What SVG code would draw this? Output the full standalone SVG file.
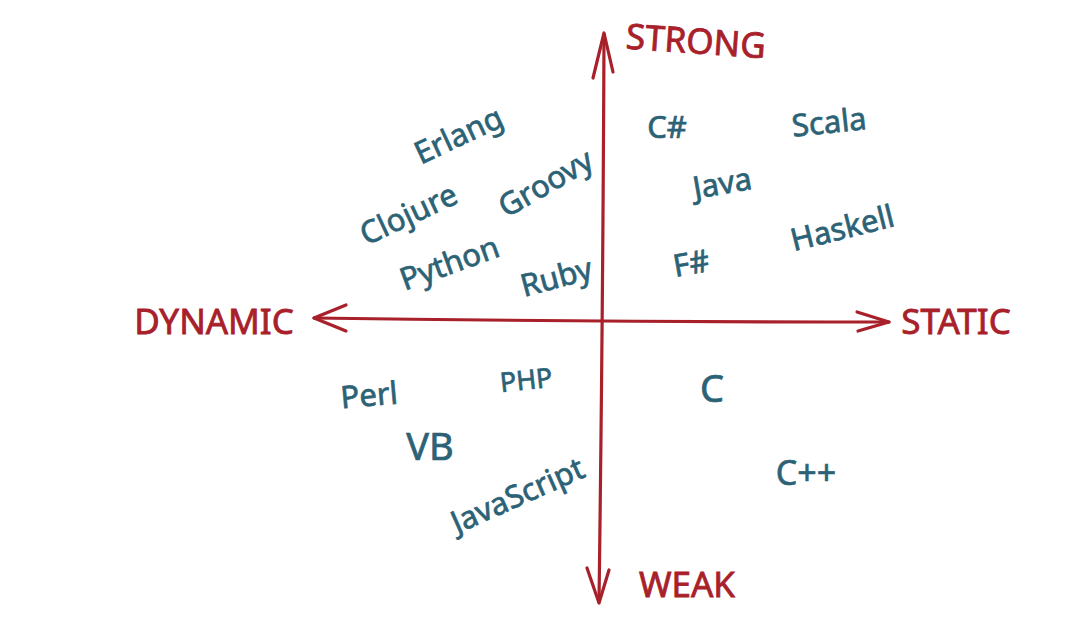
<svg xmlns="http://www.w3.org/2000/svg" width="1089" height="621" viewBox="0 0 1089 621">
<style>
.ax{fill:none;stroke:#A8202A;stroke-width:3.2;stroke-linecap:round;stroke-linejoin:round}
.lab{font-family:"Noto Sans","DejaVu Sans",sans-serif;fill:#A8202A;stroke:#A8202A;stroke-width:0.8;font-size:35px;text-anchor:middle;dominant-baseline:central}
.lang{font-family:"Noto Sans","DejaVu Sans",sans-serif;fill:#2C6276;stroke:#2C6276;stroke-width:0.7;font-size:31px;text-anchor:middle;dominant-baseline:central}
</style>
<rect width="1089" height="621" fill="#ffffff"/>
<g id="connectors">
<path class="ax" d="M604 34 Q603 300 599 602"/>
<path class="ax" d="M593 78 L604 33 L613 72"/>
<path class="ax" d="M587 568 L599 603 L609 570"/>
<path class="ax" d="M314 318 Q600 322 889 322"/>
<path class="ax" d="M346 305 L314 318 L346 331"/>
<path class="ax" d="M857 312 L889 322 L858 331"/>
</g>
<g id="strong"><text class="lab" x="696" y="40" transform="rotate(4 696 40)">STRONG</text></g>
<g id="weak"><text class="lab" x="687" y="583">WEAK</text></g>
<g id="dynamic"><text class="lab" x="214" y="320">DYNAMIC</text></g>
<g id="static"><text class="lab" x="956" y="320">STATIC</text></g>
<g id="erlang"><text class="lang" x="458" y="134" transform="rotate(-25 458 134)">Erlang</text></g>
<g id="clojure"><text class="lang" x="408" y="213" transform="rotate(-25 408 213)">Clojure</text></g>
<g id="groovy"><text class="lang" x="545" y="182" transform="rotate(-30 545 182)">Groovy</text></g>
<g id="python"><text class="lang" x="449" y="262" transform="rotate(-20 449 262)">Python</text></g>
<g id="ruby"><text class="lang" x="556" y="276" transform="rotate(-15 556 276)">Ruby</text></g>
<g id="csharp"><text class="lang" x="667" y="126">C#</text></g>
<g id="scala"><text class="lang" x="829" y="121" transform="rotate(-6 829 121)">Scala</text></g>
<g id="java"><text class="lang" x="722" y="182" transform="rotate(-10 722 182)">Java</text></g>
<g id="fsharp"><text class="lang" x="691" y="262" transform="rotate(-10 691 262)">F#</text></g>
<g id="haskell"><text class="lang" x="842" y="227" transform="rotate(-14 842 227)">Haskell</text></g>
<g id="perl"><text class="lang" x="369" y="394" transform="rotate(-5 369 394)">Perl</text></g>
<g id="php"><text class="lang" x="526" y="379" transform="rotate(-6 526 379)" style="font-size:27px">PHP</text></g>
<g id="vb"><text class="lang" x="430" y="445" style="font-size:38px">VB</text></g>
<g id="javascript"><text class="lang" x="517" y="494" transform="rotate(-24 517 494)">JavaScript</text></g>
<g id="c"><text class="lang" x="712" y="387" style="font-size:38px">C</text></g>
<g id="cpp"><text class="lang" x="806" y="472" style="font-size:34px">C++</text></g>
</svg>
